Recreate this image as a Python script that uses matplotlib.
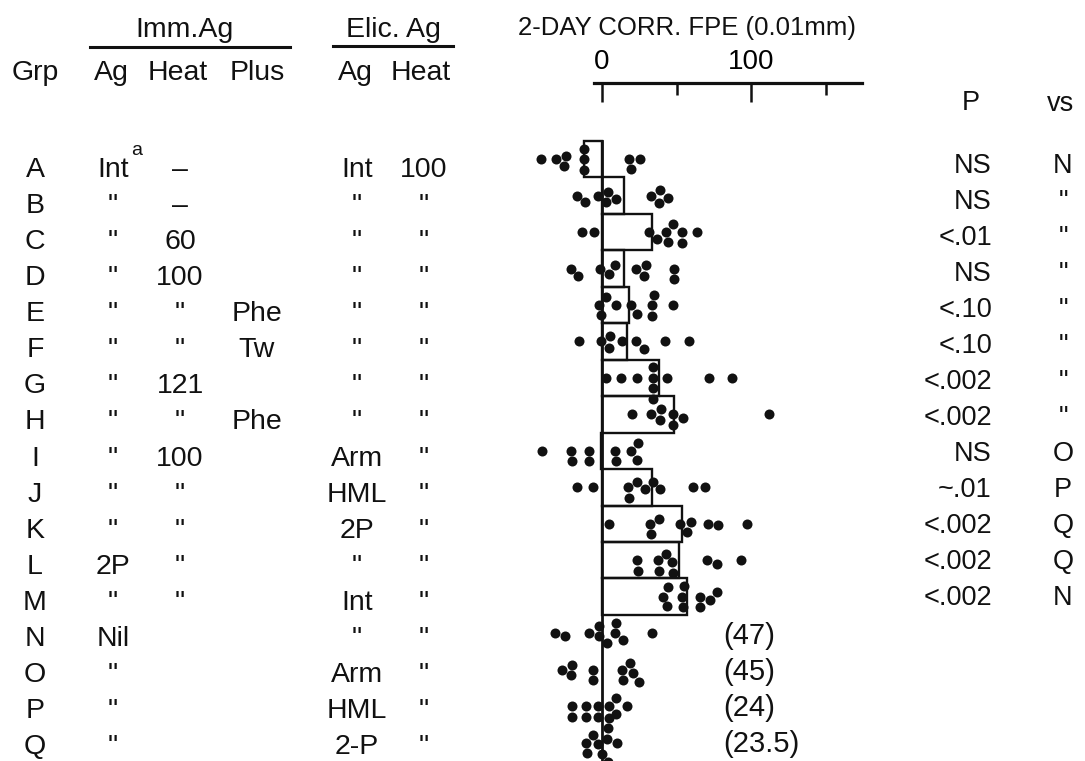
import numpy as np
import matplotlib
matplotlib.use("Agg")
import matplotlib.pyplot as plt

# ------------------------------------------------------------
# Data
# ------------------------------------------------------------
groups = list("ABCDEFGHIJKLMNOPQ")

imm_ag = ["Int", '"', '"', '"', '"', '"', '"', '"', '"', '"', '"', "2P", '"', "Nil", '"', '"', '"']
imm_heat = ["\u2013", "\u2013", "60", "100", '"', '"', "121", '"', "100", '"', '"', '"', '"', "", "", "", ""]
imm_plus = ["", "", "", "", "Phe", "Tw", "", "Phe", "", "", "", "", "", "", "", "", ""]
elic_ag = ["Int", '"', '"', '"', '"', '"', '"', '"', "Arm", "HML", "2P", '"', "Int", '"', "Arm", "HML", "2-P"]
elic_heat = ["100"] + ['"'] * 16

# P value and comparison group for groups A-M
p_vals = ["NS", "NS", "<.01", "NS", "<.10", "<.10", "<.002", "<.002", "NS", "~.01", "<.002", "<.002", "<.002"]
vs_grp = ["N", '"', '"', '"', '"', '"', '"', '"', "O", "P", "Q", "Q", "N"]

# control group means written beside N-Q
ctrl_means = ["(47)", "(45)", "(24)", "(23.5)"]

# corrected FPE (0.01 mm) group means, A-M (bars)
bar_means = [-12, 15, 33.5, 15, 18, 17, 38, 48, -1, 33.5, 54, 52, 57]

# individual animals, one list per group
fpe_points = {
    "A": [-41, -31, -25.5, -24, -12, -12, -12, 18, 19.5, 25.5],
    "B": [-16.8, -11.4, -2.7, 2.7, 4, 9.4, 33, 38, 39, 44],
    "C": [-13.4, -5.4, 31.5, 37, 43, 44.3, 47.7, 53.7, 53.7, 63.8],
    "D": [-20.8, -16, -1.3, 4.7, 8.7, 22.8, 28, 29.5, 48.3, 48.3],
    "E": [-2, -0.7, 2.7, 9.4, 19.5, 23.5, 33.5, 33.5, 35, 47.7],
    "F": [-15.4, -0.7, 4.7, 5.4, 13.4, 22.8, 28, 42.3, 58.4],
    "G": [2.7, 12.8, 23.5, 34, 34, 34, 34, 43.6, 71.8, 87.2],
    "H": [20, 33, 39, 39.6, 47.7, 47.7, 54.4, 112],
    "I": [-40, -20.8, -20, -8.7, -8.7, 8.7, 9.4, 19.5, 23.5, 24],
    "J": [-16.8, -6, 17.4, 18, 23.5, 28.9, 34, 39, 61, 69],
    "K": [4.7, 32.2, 33, 38.3, 52.3, 57, 59.7, 71, 78, 97.3],
    "L": [23.5, 24, 37.6, 38.3, 43, 47, 47.7, 70.5, 77, 93.3],
    "M": [41, 43.6, 44.3, 53.7, 54.4, 55, 65.8, 65.8, 72.5, 77],
    "N": [-31.5, -24.8, -8.7, -2, -2, 3.4, 8.7, 9.4, 14, 33.5],
    "O": [-26.8, -20.8, -20, -6, -6, 13.4, 14, 18.8, 20.8, 24.8],
    "P": [-20, -20, -10.7, -10.7, -2.7, -2.7, 4.7, 9.4, 9.4, 16.8],
    "Q": [-10.7, -10, -6, -2.7, 0, 3.4, 4, 4, 4.7, 10],
}

# ------------------------------------------------------------
# Layout helpers (figure is 1085 x 761 px, one axes over all of it)
# ------------------------------------------------------------
W, H = 1085, 761
PX_X = 1.49     # px per 0.01 mm
PX_Y = 36.46    # px per group row
X0_PX = 602     # px of FPE = 0
Y0_PX = 159.2   # px of row A centre


def xv(px):
    return (px - X0_PX) / PX_X


def yr(py):
    return (py - Y0_PX) / PX_Y


def row_base(i):
    # baselines of the hand lettered rows drift slightly
    return 0.488 + 0.9893 * i


def swarm(vals, d=10.5):
    """simple beeswarm: vertical offsets (in rows) so dots don't overlap"""
    placed = []
    offs = []
    for v in vals:
        x = v * PX_X
        cands = [0.0]
        for px, py in placed:
            dx = x - px
            if abs(dx) < d:
                dy = np.sqrt(d * d - dx * dx)
                cands += [py + dy, py - dy]
        cands.sort(key=abs)
        for c in cands:
            if all((x - px) ** 2 + (c - py) ** 2 >= d * d - 1e-6 for px, py in placed):
                break
        placed.append((x, c))
        offs.append(c / PX_Y)
    return offs


plt.rcParams["font.family"] = ["Liberation Sans", "DejaVu Sans"]
ink = "#111111"

fig = plt.figure(figsize=(W / 100, H / 100), dpi=100)
ax = fig.add_axes([0, 0, 1, 1])
ax.set_xlim(xv(0), xv(W))
ax.set_ylim(yr(H), yr(0))
ax.axis("off")

# bars (means) for A-M
n_bar = len(bar_means)
ax.barh(np.arange(n_bar), bar_means, height=1.0, left=0, fill=False,
        edgecolor=ink, linewidth=1.7, zorder=2)

# zero line
ax.axvline(0, ymin=0, ymax=1 - 141 / H, color=ink, linewidth=2.0, zorder=3)

# dots
for i, g in enumerate(groups):
    vals = sorted(fpe_points[g])
    offs = swarm(vals)
    ax.scatter(vals, np.array(offs) + i, s=52, color=ink, linewidths=0, zorder=4)

# FPE scale on top
sc = fig.add_axes([0, 1 - 83 / H, 1, 0.0001], sharex=ax)
sc.patch.set_visible(False)
for s in ["left", "right", "bottom"]:
    sc.spines[s].set_visible(False)
sc.spines["top"].set_bounds(xv(594), xv(862))
sc.spines["top"].set_linewidth(2.3)
sc.spines["top"].set_color(ink)
sc.yaxis.set_visible(False)
sc.xaxis.set_ticks_position("top")
sc.xaxis.set_label_position("top")
sc.set_xticks([0, 100])
sc.set_xticklabels(["0", "100"])
sc.set_xticks([50, 150], minor=True)
sc.tick_params(axis="x", which="major", direction="in", length=13.5, width=1.8,
               color=ink, labelsize=20, pad=6)
sc.tick_params(axis="x", which="minor", direction="in", length=8.5, width=1.8, color=ink)
sc.set_xlim(ax.get_xlim())

ax.text(xv(518), yr(35), "2-DAY CORR. FPE (0.01mm)", fontsize=18.5,
        ha="left", va="baseline", color=ink)

# table headers
fs = 20.5
ax.text(xv(184), yr(37), "Imm.Ag", fontsize=fs, ha="center", va="baseline", color=ink)
ax.text(xv(393), yr(37), "Elic. Ag", fontsize=fs, ha="center", va="baseline", color=ink)
ax.plot([xv(90), xv(290)], [yr(47.5), yr(47.5)], color=ink, linewidth=2.2)
ax.plot([xv(333), xv(453)], [yr(46), yr(46)], color=ink, linewidth=2.2)
for txt, cx in [("Grp", 35), ("Ag", 111), ("Heat", 178), ("Plus", 257),
                ("Ag", 355), ("Heat", 421)]:
    ax.text(xv(cx), yr(80), txt, fontsize=fs, ha="center", va="baseline", color=ink)

ax.text(xv(971), yr(110), "P", fontsize=19.5, ha="center", va="baseline", color=ink)
ax.text(xv(1061), yr(111), "vs", fontsize=19.5, ha="center", va="baseline", color=ink)

# table body
cols = [(groups, 35), (imm_ag, 113), (imm_heat, 180), (imm_plus, 257),
        (elic_ag, 357), (elic_heat, 424)]
for i in range(len(groups)):
    yb = row_base(i)
    for col, cx in cols:
        ax.text(xv(cx), yb, col[i], fontsize=fs, ha="center", va="baseline", color=ink)
ax.text(xv(131), row_base(0) - 0.6, "a", fontsize=14, ha="left", va="baseline", color=ink)

# P values and comparison group
for i in range(len(p_vals)):
    yb = 0.378 + 0.9874 * i
    ax.text(xv(992), yb, p_vals[i], fontsize=19.5, ha="right", va="baseline", color=ink)
    ax.text(xv(1063), yb, vs_grp[i], fontsize=19.5, ha="center", va="baseline", color=ink)

# control means beside N-Q
for k, txt in enumerate(ctrl_means):
    i = n_bar + k
    ax.text(xv(723), row_base(i) - 0.05, txt, fontsize=21, ha="left", va="baseline", color=ink)

fig.savefig("out.png", dpi=100)
